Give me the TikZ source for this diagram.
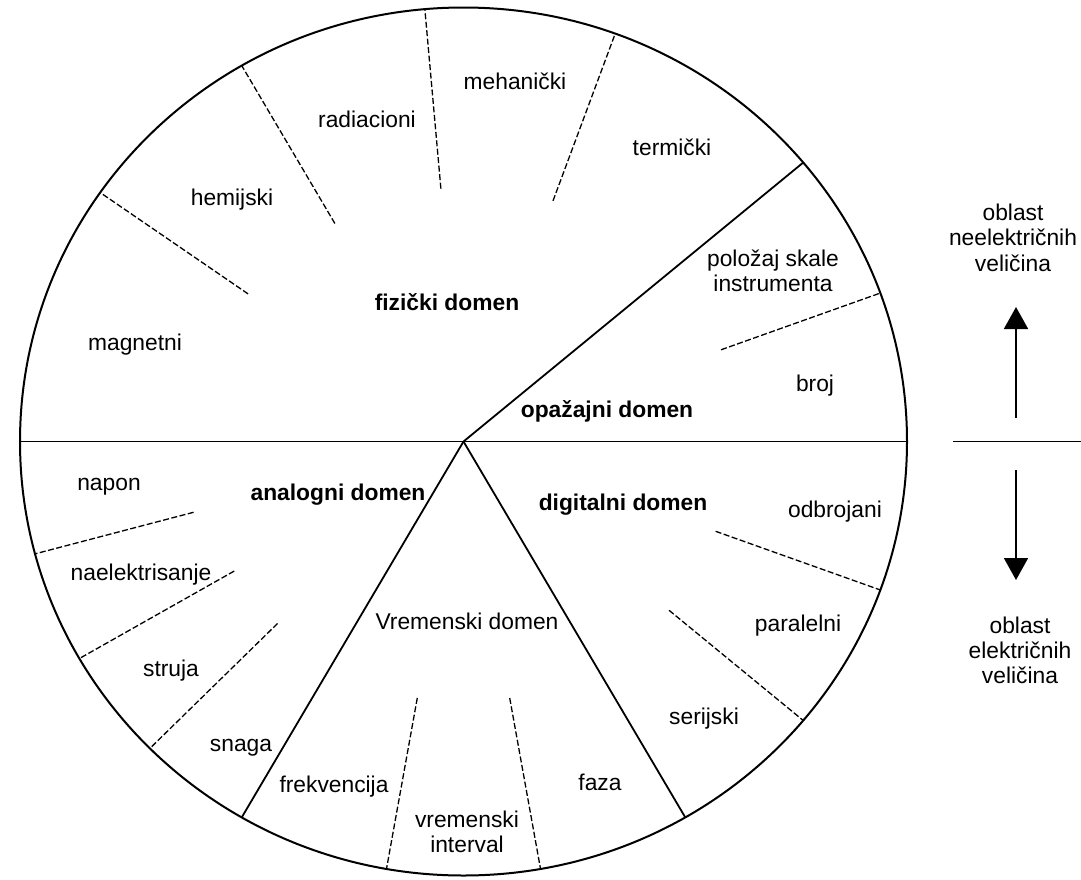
\documentclass[tikz,border=0pt]{standalone}
\usepackage{fontspec}
\setmainfont{Liberation Sans}
\usetikzlibrary{calc,arrows.meta}
\begin{document}
\begin{tikzpicture}[x=1pt,y=-1pt,
  lbl/.style={font=\fontsize{22.8}{26}\selectfont, anchor=base, inner sep=0pt},
  dom/.style={font=\fontsize{22.8}{26}\selectfont\bfseries, anchor=base, inner sep=0pt},
  divider/.style={line width=1.3pt, dash pattern=on 6pt off 2.5pt},
  sector/.style={line width=1.8pt},
  rim/.style={line width=2pt},
  arr/.style={line width=1.8pt, -{Triangle[length=22pt,width=24pt]}}]
\useasboundingbox (0,0) rectangle (1081,879);
\coordinate (c) at (463.5,441.5);
% rim
\draw[rim] (c) ellipse [x radius=443.5pt, y radius=434pt];
% outer points of solid dividers
\foreach \a in {0,40,180,240,300}{
  \coordinate (o\a) at ($(c)+(\a:443.5pt and 434pt)$);
}
\draw[sector] (o180) -- (o0);
\draw[sector] (c) -- (o40);
\draw[sector] (c) -- (o240);
\draw[sector] (c) -- (o300);
% dashed dividers
\foreach \a/\f in {120/0.58, 95/0.585, 70/0.59, 145/0.593, 20/0.618,
                   195/0.63, 210/0.597, 225/0.593, 260/0.60, 280/0.60,
                   340/0.605, 320/0.605}{
  \coordinate (o\a) at ($(c)+(\a:443.5pt and 434pt)$);
  \coordinate (i\a) at ($(c)!\f!(o\a)$);
  \draw[divider] (i\a) -- (o\a);
}
% labels: physical domain
\node[lbl] (meh) at (515,89) {mehanički};
\node[lbl] (rad) at (367,127) {radiacioni};
\node[lbl] (ter) at (672,155) {termički};
\node[lbl] (hem) at (232,205) {hemijski};
\node[lbl] (mag) at (135,350) {magnetni};
\node[dom] (fiz) at (447,310) {fizički domen};
% perceptual domain
\node[lbl] (pol1) at (773,266) {položaj skale};
\node[lbl] (pol2) at (773,291) {instrumenta};
\node[lbl] (broj) at (815,391) {broj};
\node[dom] (opa) at (607,417) {opažajni domen};
% analog domain
\node[lbl] (nap) at (109,490) {napon};
\node[dom] (ana) at (338,500) {analogni domen};
\node[lbl] (nae) at (141,580) {naelektrisanje};
\node[lbl] (str) at (171,676) {struja};
\node[lbl] (sna) at (241,751) {snaga};
% time domain
\node[lbl] (vre) at (467,629) {Vremenski domen};
\node[lbl] (fre) at (334,792) {frekvencija};
\node[lbl] (vi1) at (467,827) {vremenski};
\node[lbl] (vi2) at (467,852) {interval};
\node[lbl] (faz) at (600,790) {faza};
% digital domain
\node[dom] (dig) at (623,510) {digitalni domen};
\node[lbl] (odb) at (835,517) {odbrojani};
\node[lbl] (par) at (798,631) {paralelni};
\node[lbl] (ser) at (704,724) {serijski};
% right side
\coordinate (h1) at (953,441.5);
\coordinate (h2) at (1081,441.5);
\draw[line width=1.5pt] (h1) -- (h2);
\coordinate (ut) at (1016,418);
\coordinate (uh) at (1016,307);
\coordinate (dt) at (1016,470);
\coordinate (dh) at (1016,580);
\draw[arr] (ut) -- (uh);
\draw[arr] (dt) -- (dh);
\node[lbl] (ne1) at (1013,220) {oblast};
\node[lbl] (ne2) at (1013,245) {neelektričnih};
\node[lbl] (ne3) at (1013,271) {veličina};
\node[lbl] (el1) at (1020,633) {oblast};
\node[lbl] (el2) at (1020,658) {električnih};
\node[lbl] (el3) at (1020,683) {veličina};
\end{tikzpicture}
\end{document}
